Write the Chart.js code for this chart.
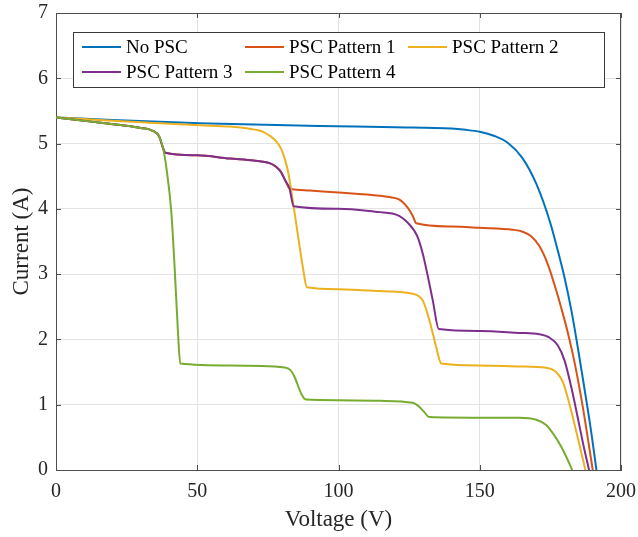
<!DOCTYPE html>
<html>
<head>
<meta charset="utf-8">
<title>I-V curves under partial shading</title>
<script src="https://cdn.jsdelivr.net/npm/chart.js@4.4.1/dist/chart.umd.min.js"></script>
<style>
  html, body { margin: 0; padding: 0; background: #fff; }
  canvas { display: block; }
</style>
</head>
<body>
<canvas id="ivChart" width="638" height="537"></canvas>
<script>
// ---- data (voltage in V, current in A) ----
const SERIES_LABELS = ["No PSC", "PSC Pattern 1", "PSC Pattern 2", "PSC Pattern 3", "PSC Pattern 4"];
const SERIES_COLORS = ["#0072BD", "#D95319", "#EDB120", "#7E2F8E", "#77AC30"];

const X_TICKS = [0, 50, 100, 150, 200];
const Y_TICKS = [0, 1, 2, 3, 4, 5, 6, 7];

const V_NO_PSC = [0, 20, 51, 93, 120, 140, 145, 150, 155, 160, 165, 170, 175, 177.5, 180, 182.5, 185, 187.5, 189.5, 191.3];
const I_NO_PSC = [5.40, 5.36, 5.31, 5.27, 5.25, 5.23, 5.21, 5.18, 5.12, 5.01, 4.785, 4.385, 3.78, 3.38, 2.95, 2.43, 1.80, 1.13, 0.57, 0];

// patterns 1 and 3 share the first step
const V_SHARED = [0, 11.7, 23.5, 30, 34, 36.5, 37.9, 38.7, 50, 61.5, 70, 75.6, 78, 79.7, 81.2, 82.7];
const I_SHARED = [5.40, 5.34, 5.28, 5.24, 5.20, 5.11, 4.93, 4.86, 4.82, 4.77, 4.74, 4.70, 4.64, 4.56, 4.43, 4.31];

const V_PAT1 = V_SHARED.concat([83.6, 89.8, 100, 114.6, 118, 121.6, 124.6, 126.3, 127.5, 140, 149.9, 161.7, 165.2, 168.2, 171.1, 174.1, 177, 179, 181.2, 183.5, 186.5, 190.0]);
const I_PAT1 = I_SHARED.concat([4.30, 4.28, 4.25, 4.20, 4.18, 4.14, 4.01, 3.89, 3.78, 3.73, 3.71, 3.68, 3.65, 3.58, 3.43, 3.15, 2.76, 2.46, 2.10, 1.66, 0.96, 0]);

const V_PAT2 = [0, 20, 33, 51, 61.5, 68, 73.3, 76, 78, 79.7, 81, 82.1, 83.3, 85.6, 87.4, 88.8, 100, 114.6, 126.3, 128.1, 129.9, 132.2, 134.6, 136.4, 150, 164, 173.5, 177, 179.4, 181.7, 184.1, 187.4];
const I_PAT2 = [5.40, 5.35, 5.32, 5.28, 5.26, 5.23, 5.18, 5.11, 5.03, 4.92, 4.76, 4.58, 4.27, 3.61, 3.10, 2.80, 2.77, 2.74, 2.70, 2.67, 2.59, 2.29, 1.88, 1.63, 1.60, 1.585, 1.565, 1.50, 1.35, 1.02, 0.60, 0];

const V_PAT3 = V_SHARED.concat([83.1, 84.1, 100, 114.6, 119, 121.6, 123.5, 125.1, 126.9, 128.1, 129.9, 131.7, 133.4, 135.5, 150, 164, 171.1, 174.6, 177.6, 180, 182.4, 184.7, 186.8, 188.7]);
const I_PAT3 = I_SHARED.concat([4.22, 4.04, 4.00, 3.95, 3.93, 3.89, 3.83, 3.76, 3.66, 3.56, 3.30, 2.95, 2.59, 2.16, 2.13, 2.10, 2.08, 2.03, 1.91, 1.68, 1.27, 0.80, 0.36, 0]);

const V_PAT4 = [0, 11.7, 23.5, 30, 34, 36.5, 37.9, 39.1, 40.8, 42, 43.2, 44.0, 61.5, 81, 83, 84.5, 86.8, 88.4, 100, 114.6, 126.3, 128, 129.9, 132.2, 150, 164, 170, 173.5, 176.4, 178.8, 181.2, 182.7];
const I_PAT4 = [5.40, 5.34, 5.28, 5.24, 5.20, 5.11, 4.93, 4.62, 3.96, 3.10, 2.09, 1.63, 1.60, 1.57, 1.53, 1.42, 1.17, 1.08, 1.07, 1.06, 1.03, 0.99, 0.91, 0.81, 0.80, 0.80, 0.77, 0.69, 0.53, 0.36, 0.15, 0];

const SERIES_V = [V_NO_PSC, V_PAT1, V_PAT2, V_PAT3, V_PAT4];
const SERIES_I = [I_NO_PSC, I_PAT1, I_PAT2, I_PAT3, I_PAT4];

// ---- styling ----
const FONT = "'Liberation Serif', 'Times New Roman', serif";
const AXIS_COLOR = "#4d4d4d";
const TEXT_COLOR = "#262626";
const GRID_COLOR = "#e3e3e3";
const TICK_LEN = 5;

function toPoints(vs, is) {
  return vs.map((v, k) => ({ x: v, y: is[k] }));
}

const datasets = SERIES_LABELS.map((label, i) => ({
  label: label,
  data: toPoints(SERIES_V[i], SERIES_I[i]),
  borderColor: SERIES_COLORS[i],
  backgroundColor: SERIES_COLORS[i],
  borderWidth: 2,
  pointRadius: 0,
  fill: false,
  cubicInterpolationMode: 'monotone',
  order: SERIES_LABELS.length - i // later series drawn on top
}));

// box, inward ticks and the in-plot legend
const matlabFrame = {
  id: 'matlabFrame',
  afterDraw(chart) {
    const { ctx, chartArea: a, scales: { x, y } } = chart;
    ctx.save();
    ctx.strokeStyle = AXIS_COLOR;
    ctx.lineWidth = 1;
    ctx.beginPath();
    ctx.moveTo(a.left, a.top + 0.5);
    ctx.lineTo(a.right, a.top + 0.5);
    ctx.moveTo(a.right - 0.5, a.top);
    ctx.lineTo(a.right - 0.5, a.bottom);
    X_TICKS.forEach(v => {
      const px = Math.round(x.getPixelForValue(v)) + 0.5;
      ctx.moveTo(px, a.bottom);
      ctx.lineTo(px, a.bottom - TICK_LEN);
      ctx.moveTo(px, a.top);
      ctx.lineTo(px, a.top + TICK_LEN);
    });
    Y_TICKS.forEach(v => {
      const py = Math.round(y.getPixelForValue(v)) + 0.5;
      ctx.moveTo(a.left, py);
      ctx.lineTo(a.left + TICK_LEN, py);
      ctx.moveTo(a.right, py);
      ctx.lineTo(a.right - TICK_LEN, py);
    });
    ctx.stroke();

    // legend: 3 columns, 2 rows
    const box = { left: 73.5, top: 32.5, right: 604.5, bottom: 87.5 };
    ctx.fillStyle = "#fff";
    ctx.fillRect(box.left, box.top, box.right - box.left, box.bottom - box.top);
    ctx.strokeStyle = "#3a3a3a";
    ctx.strokeRect(box.left, box.top, box.right - box.left, box.bottom - box.top);

    const colX = [82, 245, 408];
    const rowY = [47, 72];
    ctx.font = "19px " + FONT;
    ctx.textBaseline = "middle";
    ctx.textAlign = "left";
    chart.data.datasets.forEach((ds, i) => {
      const cx = colX[i % 3];
      const cy = rowY[Math.floor(i / 3)];
      ctx.strokeStyle = ds.borderColor;
      ctx.lineWidth = 2;
      ctx.beginPath();
      ctx.moveTo(cx, cy);
      ctx.lineTo(cx + 39, cy);
      ctx.stroke();
      ctx.fillStyle = "#000";
      ctx.fillText(ds.label, cx + 44, cy + 1);
    });
    ctx.restore();
  }
};

const ivChart = new Chart(document.getElementById('ivChart'), {
  type: 'line',
  data: { datasets: datasets },
  options: {
    responsive: false,
    animation: false,
    devicePixelRatio: 1,
    layout: { padding: { top: 13, right: 17, left: 0, bottom: 0 } },
    plugins: {
      legend: { display: false },
      tooltip: { enabled: false }
    },
    scales: {
      x: {
        type: 'linear',
        min: 0,
        max: 200,
        afterBuildTicks: s => { s.ticks = X_TICKS.map(v => ({ value: v })); },
        afterFit: s => { s.height = 67; s.paddingLeft = 0; s.paddingRight = 0; },
        grid: { color: GRID_COLOR, drawTicks: false },
        border: { display: true, color: AXIS_COLOR, width: 1 },
        ticks: { color: TEXT_COLOR, font: { family: FONT, size: 20 }, padding: 10, maxRotation: 0 },
        title: { display: true, text: 'Voltage (V)', color: TEXT_COLOR, font: { family: FONT, size: 23 }, padding: { top: 0, bottom: 3 } }
      },
      y: {
        type: 'linear',
        min: 0,
        max: 7,
        afterBuildTicks: s => { s.ticks = Y_TICKS.map(v => ({ value: v })); },
        afterFit: s => { s.width = 56; s.paddingTop = 0; s.paddingBottom = 0; },
        grid: { color: GRID_COLOR, drawTicks: false },
        border: { display: true, color: AXIS_COLOR, width: 1 },
        ticks: { color: TEXT_COLOR, font: { family: FONT, size: 20 }, padding: 8 },
        title: { display: true, text: 'Current (A)', color: TEXT_COLOR, font: { family: FONT, size: 23 }, padding: { top: 8, bottom: 0 } }
      }
    }
  },
  plugins: [matlabFrame]
});
</script>
</body>
</html>
